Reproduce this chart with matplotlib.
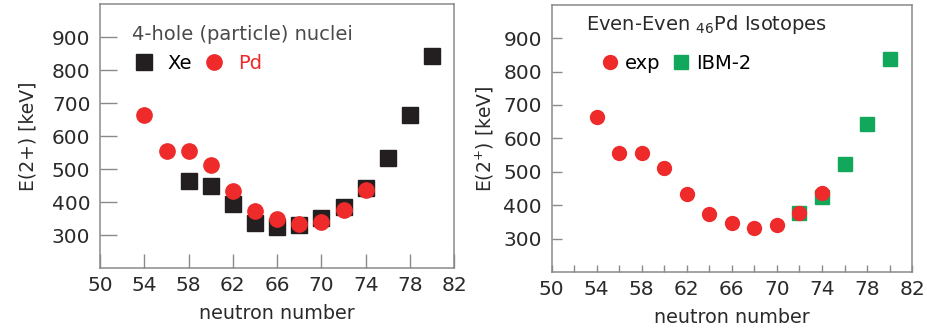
import matplotlib.pyplot as plt
from matplotlib.ticker import MultipleLocator

# neutron numbers and E(2+) energies [keV]
n_pd = [54, 56, 58, 60, 62, 64, 66, 68, 70, 72, 74]
e_pd = [663, 555, 555, 511, 433, 373, 348, 332, 340, 377, 436]
n_xe = [58, 60, 62, 64, 66, 68, 70, 72, 74, 76, 78, 80]
e_xe = [464, 449, 395, 338, 323, 330, 353, 386, 442, 534, 665, 841]
n_ibm = [72, 74, 76, 78, 80]
e_ibm = [378, 425, 524, 644, 838]

xticks = [50, 54, 58, 62, 66, 70, 74, 78, 82]
yticks = [300, 400, 500, 600, 700, 800, 900]

red = '#ee2a2a'
black = '#231f20'
green = '#12a85c'
txt = '#2a2a2a'
spine = '#8a8a8a'

plt.rcParams['font.family'] = 'DejaVu Sans'
fig = plt.figure(figsize=(9.27, 3.33), dpi=100)
ax1 = fig.add_axes([0.108, 0.195, 0.382, 0.793])
ax2 = fig.add_axes([0.595, 0.183, 0.389, 0.803])


def style(ax, minor, ylen):
    ax.set_xlim(50, 82)
    ax.set_ylim(200, 1000)
    ax.set_xticks(xticks)
    ax.set_yticks(yticks)
    if minor:
        ax.xaxis.set_minor_locator(MultipleLocator(2))
        xlen = 5
    else:
        xlen = 10
    ax.tick_params(direction='in', width=1, color=spine,
                   labelsize=14.5, labelcolor=txt)
    ax.tick_params(axis='y', length=ylen, pad=7)
    ax.tick_params(axis='x', length=xlen, pad=6)
    ax.tick_params(which='minor', direction='in', length=5, width=1, color=spine)
    for s in ax.spines.values():
        s.set_color(spine)
        s.set_linewidth(1.1)
    ax.set_xlabel('neutron number', fontsize=13.8, color=txt, labelpad=6)


# left panel
style(ax1, False, 12)
ax1.plot(n_xe, e_xe, 's', color=black, ms=11.5, label='Xe', zorder=2)
ax1.plot(n_pd, e_pd, 'o', color=red, ms=11, label='Pd', zorder=3)
ax1.set_ylabel('E(2+) [keV]', fontsize=13.5, color=txt, labelpad=10)
ax1.text(0.09, 0.885, '4-hole (particle) nuclei', transform=ax1.transAxes,
         fontsize=14, color='#4a4a4a', va='center')
leg = ax1.legend(loc='center left', bbox_to_anchor=(0.075, 0.775), ncol=2,
                 frameon=False, fontsize=14, handlelength=1.0,
                 handletextpad=0.7, columnspacing=0.65, borderaxespad=0)
leg.get_texts()[1].set_color(red)

# right panel
style(ax2, True, 7)
ax2.plot(n_ibm, e_ibm, 's', color=green, ms=10, label='IBM-2', zorder=2)
ax2.plot(n_pd, e_pd, 'o', color=red, ms=10, label='exp', zorder=3)
ax2.set_ylabel('E(2$^{+}$) [keV]', fontsize=13.5, color=txt, labelpad=5)
ax2.text(0.095, 0.925, 'Even-Even $_{46}$Pd Isotopes', transform=ax2.transAxes,
         fontsize=14, color=txt, va='center')
h, l = ax2.get_legend_handles_labels()
ax2.legend(h[::-1], l[::-1], loc='center left', bbox_to_anchor=(0.115, 0.78),
           ncol=2, frameon=False, fontsize=14, handlelength=0.9,
           handletextpad=0.35, columnspacing=0.6, borderaxespad=0)

fig.savefig('out.png', dpi=100)
